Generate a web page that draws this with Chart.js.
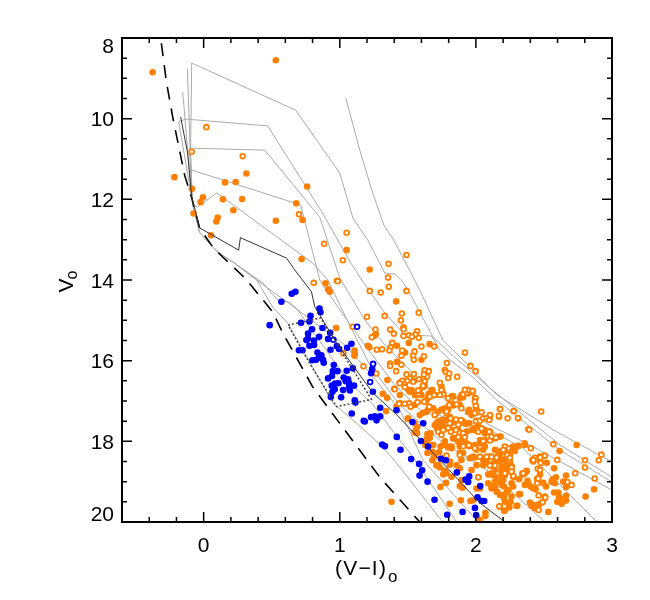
<!DOCTYPE html>
<html>
<head>
<meta charset="utf-8">
<title>CMD</title>
<script src="https://cdn.jsdelivr.net/npm/chart.js@4"></script>
<style>
  body { margin: 0; background: #fff; }
  canvas { display: block; }
</style>
</head>
<body>
<canvas id="cmdChart" width="650" height="600"></canvas>
<script>
// tick positions
const xMajorTicks = [0, 1, 2, 3];
const xMinorTicks = [-0.4, -0.2, 0.2, 0.4, 0.6, 0.8, 1.2, 1.4, 1.6, 1.8, 2.2, 2.4, 2.6, 2.8];
const yMajorTicks = [8, 10, 12, 14, 16, 18, 20];
const yMinorTicks = [8.5, 9, 9.5, 10.5, 11, 11.5, 12.5, 13, 13.5, 14.5, 15, 15.5, 16.5, 17, 17.5, 18.5, 19, 19.5];

// stars, [V-I, V]
const orangeFilled = [
  [0.53,8.55],[-0.375,8.85],[-0.215,11.45],[-0.086,11.74],[0.157,11.58],[0.235,11.57],[0.314,11.36],[0.76,11.68],
  [-0.005,11.95],[-0.022,12.07],[0.142,12.0],[0.282,11.99],[0.68,12.1],[0.218,12.27],[-0.074,12.35],[0.103,12.45],
  [0.093,12.55],[0.53,12.53],[0.726,12.51],[0.054,12.89],[1.05,13.26],[0.72,13.48],[1.22,13.74],[0.98,14.02],
  [0.895,14.08],[0.914,14.23],[0.926,14.29],[0.973,15.19],[1.414,14.53],[1.507,15.56],[1.66,15.59],[1.42,15.63],
  [1.265,15.34],[1.252,15.39],[1.206,15.63],[1.218,15.67],[1.108,15.75],[1.11,15.82],[1.108,15.88],[1.48,15.8],
  [1.6,15.98],[1.421,16.03],[1.35,16.48],[1.44,16.55],[1.316,16.82],[1.348,16.92],[1.503,16.72],[1.527,16.74],
  [1.564,16.86],[1.674,16.73],[1.654,16.82],[1.647,16.92],[1.76,16.82],[1.833,16.89],[1.882,16.93],[1.38,19.5],
  [1.807,19.55],[1.89,19.46],[1.96,19.48],[1.98,19.46],[2.03,19.95],[2.07,19.77],[2.07,19.85],[2.02,19.94],
  [1.74,19.13],[1.78,19.03],[1.76,18.82],[1.77,18.73],[1.735,18.65],[1.71,18.6],[1.68,18.47],[1.73,18.27],
  [1.74,18.13],[1.55,17.78],[1.57,17.64],[1.667,17.8],[1.64,17.93],[1.63,18.1],[1.34,17.25],[1.416,17.14],
  [1.5,17.44],[1.71,17.55],[1.588,17.35],[1.613,17.29],[1.637,17.27],[1.747,17.21],[1.772,17.18],[1.796,17.22],
  [1.821,17.08],[1.882,17.1],[1.943,17.27],[1.968,17.31],[1.951,17.22],[1.907,16.85],[1.828,16.88],[1.809,16.96],
  [1.686,17.18],[1.723,17.51],[1.698,17.6],[1.73,17.6],[1.716,17.68],[1.747,17.47],[1.76,17.6],[1.784,17.68],
  [1.821,17.55],[1.858,17.51],[1.894,17.51],[1.926,17.57],[1.951,17.55],[1.98,17.7],[2.005,17.74],[2.042,17.68],
  [2.066,17.72],[2.14,17.93],[2.176,17.88],[2.09,17.97],[2.054,18.01],[2.03,17.97],[2.066,18.13],[1.993,18.09],
  [1.951,18.09],[1.882,18.13],[1.821,18.13],[1.796,18.15],[1.76,18.09],[1.833,17.93],[1.87,18.01],[1.686,18.09],
  [1.662,18.09],[1.644,17.93],[1.568,17.8],[1.559,17.72],[1.968,18.4],[1.993,18.4],[1.894,18.46],[1.809,18.5],
  [1.76,18.42],[1.698,18.34],[1.681,18.26],[1.784,18.79],[1.821,18.88],[1.882,18.67],[1.858,18.59],[1.968,18.71],
  [1.894,18.96],[1.882,19.11],[1.902,19.15],[2.005,19.17],[2.03,19.17],[2.09,19.04],[2.14,19.12],[2.115,19.17],
  [2.152,19.25],[2.188,19.33],[2.225,19.27],[2.262,19.37],[2.213,19.5],[2.208,19.72],[2.245,19.62],[2.299,19.6],
  [2.318,19.31],[2.274,19.12],[2.262,19.04],[2.238,19.21],[2.176,19.0],[2.152,18.89],[2.14,18.71],[2.115,18.82],
  [2.188,18.71],[2.054,18.59],[2.078,18.5],[2.127,18.59],[2.262,18.63],[2.274,18.88],[2.318,18.94],
  [2.36,18.09],[2.311,18.12],[2.274,18.13],[2.36,19.08],[2.385,19.04],[2.372,18.75],[2.343,18.79],[2.358,18.05],
  [2.181,17.88],[2.615,18.24],[2.74,18.09],[2.574,18.67],[2.471,18.82],[2.373,18.73],[2.36,18.79],[2.287,18.24],
  [2.25,18.17],[2.226,18.17],[2.177,18.34],[2.147,18.22],
  [2.177,18.5],[2.152,18.45],[2.128,18.55],[2.226,18.67],[2.189,18.75],
  [2.128,18.84],[2.25,18.75],[2.213,18.84],[2.279,18.89],[2.201,18.96],[2.189,19.08],
  [2.206,19.12],[2.14,19.0],[2.115,19.12],[2.157,19.25],[2.177,19.33],[2.206,19.39],[2.255,19.5],
  [2.324,19.31],[2.304,19.6],[2.245,19.64],[2.211,19.72],[2.38,18.98],[2.402,19.12],[2.422,19.17],[2.439,19.19],
  [2.495,19.03],[2.515,19.12],[2.564,18.94],[2.556,19.0],[2.588,18.89],[2.581,19.04],[2.642,19.0],[2.662,18.85],
  [2.662,19.14],[2.868,19.19],[2.806,19.37],[2.574,19.27],[2.605,19.27],[2.61,19.37],[2.618,19.41],[2.662,19.35],
  [2.662,19.47],[2.63,19.55],[2.598,19.5],[2.507,19.37],[2.507,19.41],[2.397,19.52],[2.409,19.6],[2.422,19.58],
  [2.434,19.66],[2.451,19.58],[2.471,19.55],[2.532,19.75],[1.527,16.73],[1.551,16.85],[1.637,16.98],[1.681,16.73],
  [1.441,17.05],[1.502,17.43],[1.551,17.55],[1.644,17.82],[1.661,17.92],[1.637,18.05],[1.644,18.29],[1.693,18.38],
  [1.723,18.58],[1.71,17.59],[1.735,17.51],[1.723,17.67],[1.772,17.47],[1.808,17.39],[1.833,17.47],[1.857,17.47],
  [1.882,17.55],[1.906,17.51],[1.931,17.55],[1.821,17.72],[1.87,17.72],[1.894,17.8],[1.931,17.76],[1.968,17.72],
  [1.992,17.67],[2.017,17.63],[1.833,17.92],[1.87,18.0],[1.906,17.96],[1.931,18.05],[1.796,18.13],[1.821,18.17],
  [1.772,18.0],[1.906,18.29],[1.882,18.29],[1.808,18.58],[1.833,17.11],[1.821,16.89],[1.894,16.85],[1.943,16.81],
  [1.906,16.91],[1.747,16.64],[1.6,16.85],[1.625,17.01],[1.649,17.22],[1.723,17.26],[1.514,16.77],[1.478,16.64],
  [1.551,17.1],[1.441,16.85],[1.993,16.92],[1.968,17.35],[2.005,17.51],[1.98,17.72],[2.03,17.72],[2.066,17.8],
  [2.115,17.88],[2.066,17.97],[2.03,18.05],[2.054,18.21],[2.14,18.21],[2.226,18.17],[2.311,18.11],[2.262,18.21],
  [2.189,18.25],[2.164,18.34],[2.25,18.34],[2.201,18.46],[2.14,18.42],[2.103,18.38],[2.054,18.46],[2.25,18.5],
  [2.226,18.59],[2.189,18.63],[2.14,18.54],[2.066,18.54],[2.262,18.61],[2.005,18.59],[1.98,18.38],[1.956,18.42],
  [2.115,18.79],[2.091,18.82],[2.189,18.83],[2.422,18.5],[2.471,18.38],[2.52,18.53],[2.476,18.5],[2.005,17.22]
];
const orangeOpen = [
  [0.02,10.21],[-0.088,10.82],[0.287,10.93],[0.70,12.37],[1.05,12.83],[0.885,13.1],[1.022,13.51],[1.49,13.38],
  [1.358,13.6],[1.355,13.94],[1.36,14.17],[1.22,14.27],[1.30,14.31],[1.49,14.27],[1.456,14.83],[1.58,14.81],
  [1.2,14.91],[1.33,14.89],[1.449,15.0],[1.468,15.17],[1.47,15.22],[1.37,15.23],[1.262,15.23],[1.095,15.16],
  [1.397,15.33],[1.568,15.27],[1.556,15.35],[1.468,15.39],[1.507,15.37],[1.53,15.41],[1.58,15.43],[1.235,15.42],
  [1.385,15.56],[1.693,15.65],[1.373,15.67],[1.365,15.75],[1.458,15.75],[1.272,15.73],[1.311,15.72],[1.60,15.65],
  [1.549,15.77],[1.453,15.88],[1.539,15.88],[1.618,15.89],[1.544,15.98],[1.92,15.8],[1.787,16.06],[1.96,16.13],
  [1.998,16.26],[1.37,16.07],[1.37,16.13],[1.453,16.1],[1.174,16.14],[1.267,16.32],[1.772,16.23],[1.779,16.28],
  [1.804,16.32],[1.623,16.24],[1.654,16.26],[1.414,16.26],[1.49,16.34],[1.544,16.33],[1.642,16.39],[1.796,16.43],
  [1.863,16.4],[1.618,16.34],[1.515,16.44],[1.583,16.46],[1.613,16.46],[1.495,16.5],[1.458,16.5],[1.546,16.5],
  [1.625,16.51],[1.735,16.55],[1.476,16.59],[1.61,16.65],[1.752,16.74],[1.583,16.74],[1.4,16.7],[1.907,16.83],
  [1.939,16.72],[1.934,16.79],[1.978,16.77],[1.998,16.93],[1.69,16.85],[1.667,16.88],[1.58,16.82],[0.809,14.07],
  [0.985,14.03],[1.027,15.82],[1.941,16.73],[1.975,16.75],[2.0,17.14],[2.017,17.28],[2.042,17.28],[2.105,17.36],
  [2.1,17.44],[2.176,17.2],[2.171,17.39],[2.277,17.25],[2.233,17.43],[2.311,17.43],[2.0,17.5],[2.029,17.49],
  [2.385,17.7],[2.09,17.76],[2.017,17.76],[2.09,17.88],[2.103,17.98],[1.436,17.07],[1.478,17.07],[1.51,17.06],
  [1.52,17.14],[1.571,17.03],[1.62,17.02],[1.657,17.14],[1.698,17.35],[1.816,16.96],[1.804,17.1],[1.858,17.08],
  [1.894,17.18],[1.784,17.31],[1.814,17.43],[1.853,17.46],[1.89,17.47],[1.723,17.76],[1.76,17.72],[1.816,17.76],
  [1.853,17.72],[1.882,17.79],[1.907,17.8],[1.87,17.89],[1.919,17.9],[1.907,18.12],[1.951,18.12],[1.882,18.34],
  [2.029,18.38],[2.115,18.38],[2.152,18.4],[2.238,18.17],[2.206,18.26],[2.23,18.34],[2.245,18.46],[2.262,18.73],
  [2.348,18.82],[2.019,18.89],[2.176,19.62],[1.441,16.56],[1.404,16.71],[1.478,16.65],[1.539,16.52],[1.583,16.75],
  [1.625,16.63],[1.662,16.89],[1.698,16.85],[1.747,16.73],[1.76,16.83],[2.179,17.2],[2.279,17.25],[2.169,17.37],
  [2.309,17.42],[2.48,17.26],[2.392,17.71],[2.103,17.35],[2.103,17.76],[2.115,17.88],[2.152,17.9],[2.569,18.07],
  [2.404,18.17],[2.503,18.36],[2.434,18.41],[2.414,18.47],[2.473,18.4],[2.476,18.54],[2.598,18.46],[2.454,18.68],
  [2.801,18.47],[2.902,18.47],[2.922,18.33],[2.801,18.65],[2.73,18.79],[2.873,18.92],[2.341,18.81],[2.449,18.93],
  [2.262,18.65],[2.262,18.75],[2.25,18.41],[2.213,18.13],[2.672,19.01],[2.703,19.08],[2.451,19.04],[2.461,19.34],
  [2.51,19.39],[2.49,19.51],[2.461,19.7],[2.172,19.61],[2.103,18.59],[2.123,18.61],[2.0,17.12],[2.054,17.43],
  [2.079,17.43],[2.098,17.47],[2.098,17.76],[2.042,17.68],[2.147,17.91],[2.054,17.99],[1.993,18.13],[2.005,18.21],
  [2.079,18.38],[2.201,18.21],[2.422,18.46],[2.507,18.36],[2.471,18.71],[2.348,18.79],[2.275,18.86],[2.017,18.89],
  [2.458,18.92],[2.14,18.6],[2.103,18.6],[2.213,18.79],[1.571,17.03],[1.576,16.74],[1.612,16.62],[1.693,16.85],
  [1.735,16.85],[1.796,16.93],[1.919,16.72],[1.992,17.01],[1.992,17.3],[1.698,17.34],[1.784,17.26],[1.808,17.55],
  [1.796,17.67],[1.87,17.59],[1.747,17.84],[1.948,18.1],[1.992,18.17],[1.784,18.35]
];
const blueFilled = [
  [0.674,14.29],[0.647,14.34],[0.571,14.54],[0.485,15.12],[0.785,14.89],[0.851,14.71],[0.858,14.8],[0.715,15.06],
  [0.777,15.03],[0.873,15.19],[0.796,15.22],[0.929,15.31],[0.767,15.33],[0.848,15.41],[0.767,15.45],[0.755,15.49],
  [0.811,15.5],[0.914,15.46],[1.086,15.58],[1.054,15.68],[0.777,15.63],[0.811,15.61],[0.978,15.64],[0.995,15.71],
  [0.932,15.73],[0.7,15.74],[0.726,15.74],[0.836,15.8],[0.865,15.87],[0.848,15.92],[0.826,15.98],[0.799,15.99],
  [0.877,15.98],[0.882,16.05],[0.956,16.11],[1.096,16.19],[0.949,16.26],[0.983,16.26],[1.051,16.25],[1.238,16.21],
  [1.23,16.31],[0.943,16.38],[0.914,16.44],[1.029,16.42],[1.061,16.46],[1.044,16.51],[1.068,16.56],[0.99,16.56],
  [0.965,16.57],[0.941,16.62],[1.105,16.62],[1.068,16.66],[1.024,16.73],[0.963,16.71],[0.946,16.77],[1.074,16.74],
  [1.01,16.91],[0.934,16.9],[1.243,16.77],[1.11,16.98],[1.115,17.04],[1.297,17.17],[1.088,17.31],[1.417,17.23],
  [1.297,17.38],[1.257,17.38],[1.23,17.4],[1.27,17.48],[1.176,17.49],[1.184,17.51],[1.534,17.52],[1.613,17.55],
  [1.419,17.89],[1.596,17.99],[1.649,18.13],[1.311,18.08],[1.331,18.12],[1.446,18.21],[1.524,18.44],[1.583,18.56],
  [1.743,18.43],[1.779,18.47],[1.605,18.72],[1.586,18.85],[1.86,18.77],[1.951,18.87],[1.924,18.95],[1.943,19.01],
  [1.645,19.0],[2.032,19.11],[1.696,19.45],[2.012,19.39],[2.042,19.48],[2.061,19.48],[1.993,19.65],[1.902,19.75],
  [1.789,19.82],[2.002,19.83]
];
const blueOpen = [[0.953,15.48],[1.127,15.16],[1.245,16.08],[1.223,16.53]];

// model tracks
const grayTracks = [
  [[1.044,9.49],[1.147,10.78],[1.235,11.77],[1.324,12.64],[1.397,13.01],[1.588,14.25],[1.757,15.49],[1.904,15.98],[2.154,16.85],[2.596,17.77],[3.0,18.51]],
  [[-0.085,12.02],[-0.096,10.78],[-0.088,8.62],[0.676,9.79],[1.0,11.35],[1.096,12.46],[1.206,13.01],[1.331,13.83],[1.404,13.85],[1.463,14.05],[1.529,14.42],[1.61,14.94],[1.684,15.41],[1.809,15.81],[1.978,16.31],[2.103,16.68],[2.618,18.09],[3.0,18.89]],
  [[-0.088,11.94],[-0.184,10.08],[-0.132,10.01],[0.471,10.18],[0.868,12.31],[1.081,13.58],[1.162,14.0],[1.331,14.82],[1.478,15.36],[1.676,15.39],[1.735,15.74],[1.809,15.98],[1.978,16.41],[2.154,16.98],[2.618,18.22],[3.0,19.01]],
  [[-0.088,11.94],[-0.103,10.73],[0.449,10.78],[0.853,12.44],[1.0,13.95],[1.184,14.99],[1.331,15.61],[1.478,16.11],[1.662,16.73],[2.103,17.6],[2.397,18.09],[3.0,19.21]],
  [[-0.088,11.94],[-0.09,11.27],[0.713,12.14],[0.853,14.0],[1.0,14.74],[1.184,15.61],[1.404,16.6],[1.588,17.22],[2.103,17.72],[2.346,18.17],[2.89,20.0]],
  [[-0.081,12.14],[-0.044,12.19],[0.096,11.84],[0.801,13.58],[0.912,14.0],[1.037,14.87],[1.221,16.11],[1.441,17.1],[1.735,17.97],[2.103,18.76],[2.507,20.0]],
  [[-0.081,12.14],[-0.098,10.85],[-0.12,8.75]],
  [[-0.088,11.94],[-0.154,9.34]],
  [[-0.081,12.14],[-0.029,12.83],[0.103,13.31],[0.213,13.55],[0.39,14.0],[0.507,14.67],[0.618,15.07],[0.949,17.05],[1.096,17.47],[1.316,18.14],[1.441,18.64],[1.757,20.0]],
  [[-0.081,12.14],[-0.029,12.83],[0.103,13.31],[0.213,13.55],[0.434,14.07],[0.544,14.5],[0.632,14.55],[0.691,14.74],[0.779,15.17],[1.074,16.55],[1.235,17.05],[1.368,17.65],[1.537,18.39],[1.86,20.0]],
  [[0.213,13.55],[0.39,14.0],[0.691,14.74],[1.037,15.61],[1.235,16.36],[1.441,17.22],[1.61,18.46],[2.015,20.0]]
];
const darkTrack = [[-0.169,9.96],[-0.118,10.85],[-0.088,11.94],[-0.029,12.71],[0.257,13.26],[0.27,12.95],[0.61,13.46],[0.669,13.75],[0.792,14.29],[0.816,14.66],[0.976,15.56],[1.243,16.8],[1.412,17.32],[1.757,18.54],[2.029,19.53],[2.206,19.98]];
const dashedTrack = [[-0.311,8.13],[-0.274,9.08],[-0.228,9.95],[-0.14,11.4],[-0.09,11.94],[-0.03,12.71],[0.066,13.18],[0.14,13.43],[0.272,13.85],[0.316,14.0],[0.507,14.79],[0.581,15.31],[0.801,16.65],[0.926,17.22],[1.147,18.22],[1.294,18.89],[1.588,20.0]];
const dottedBox = [[0.62,15.12],[0.86,14.94],[1.233,16.96],[0.976,17.14],[0.779,16.07],[0.62,15.12]];

const toPoints = list => list.map(p => ({ x: p[0], y: p[1] }));

function lineSet(list, color, width, dash, order) {
    return {
        data: toPoints(list),
        showLine: true,
        borderColor: color,
        borderWidth: width,
        borderDash: dash,
        pointRadius: 0,
        tension: 0,
        order: order
    };
}

function pointSet(list, fill, stroke, radius, strokeWidth, order) {
    return {
        data: toPoints(list),
        showLine: false,
        backgroundColor: fill,
        borderColor: stroke,
        borderWidth: strokeWidth,
        pointRadius: radius,
        clip: false,
        order: order
    };
}

const orange = '#ff8000';
const blue = '#0000ff';

const datasets = [
    ...grayTracks.map(t => lineSet(t, '#aaaaaa', 1, [], 10)),
    lineSet(darkTrack, '#333333', 1, [], 2),
    lineSet(dashedTrack, '#000000', 1.6, [13, 9], 8),
    pointSet(orangeFilled, orange, orange, 3.3, 0, 6),
    pointSet(orangeOpen, '#ffffff', orange, 2.4, 1.8, 5),
    pointSet(blueFilled, blue, blue, 3.3, 0, 4),
    pointSet(blueOpen, '#ffffff', blue, 2.4, 1.8, 3),
    lineSet(dottedBox, '#444444', 1.5, [2, 2], 1)
];

// inward ticks on all four sides, the frame, y labels and the axis titles
const framePlugin = {
    id: 'frame',
    afterDraw(chart) {
        const ctx = chart.ctx;
        const a = chart.chartArea;
        const xs = chart.scales.x;
        const ys = chart.scales.y;
        ctx.save();
        ctx.strokeStyle = '#000';
        ctx.lineWidth = 1.5;
        const xTick = (v, len) => {
            const px = xs.getPixelForValue(v);
            ctx.beginPath();
            ctx.moveTo(px, a.bottom); ctx.lineTo(px, a.bottom - len);
            ctx.moveTo(px, a.top); ctx.lineTo(px, a.top + len);
            ctx.stroke();
        };
        const yTick = (v, len) => {
            const py = ys.getPixelForValue(v);
            ctx.beginPath();
            ctx.moveTo(a.left, py); ctx.lineTo(a.left + len, py);
            ctx.moveTo(a.right, py); ctx.lineTo(a.right - len, py);
            ctx.stroke();
        };
        xMajorTicks.forEach(v => xTick(v, 10));
        xMinorTicks.forEach(v => xTick(v, 5));
        yMajorTicks.forEach(v => yTick(v, 10));
        yMinorTicks.forEach(v => yTick(v, 5));
        ctx.lineWidth = 2;
        ctx.strokeRect(a.left, a.top, a.right - a.left, a.bottom - a.top);

        ctx.fillStyle = '#000';
        // y labels stay inside the frame height, as in the source figure
        ctx.font = '21px "Liberation Sans"';
        ctx.textAlign = 'right';
        ctx.textBaseline = 'middle';
        yMajorTicks.forEach(v => {
            const py = Math.min(a.bottom - 7, Math.max(a.top + 9, ys.getPixelForValue(v) + 2));
            ctx.fillText(String(v), 114, py);
        });

        ctx.textBaseline = 'alphabetic';
        ctx.textAlign = 'left';
        ctx.font = '21px "Liberation Sans"';
        ctx.letterSpacing = '1.2px';
        ctx.fillText('(V\u2212I)', 335, 575);
        ctx.letterSpacing = '0px';
        ctx.font = '17px "Liberation Sans"';
        ctx.fillText('o', 388, 582);

        ctx.translate(73, 292.5);
        ctx.rotate(-Math.PI / 2);
        ctx.font = '21px "Liberation Sans"';
        ctx.fillText('V', 0, 0);
        ctx.font = '16px "Liberation Sans"';
        ctx.fillText('o', 13, 4);
        ctx.restore();
    }
};

new Chart(document.getElementById('cmdChart'), {
    type: 'scatter',
    data: { datasets: datasets },
    plugins: [framePlugin],
    options: {
        responsive: false,
        animation: false,
        layout: { padding: { top: 38, right: 38 } },
        plugins: {
            legend: { display: false },
            tooltip: { enabled: false }
        },
        scales: {
            x: {
                type: 'linear',
                min: -0.6,
                max: 3,
                grid: { display: false },
                border: { display: false },
                afterBuildTicks: s => { s.ticks = xMajorTicks.map(v => ({ value: v })); },
                afterFit: s => { s.height = 78; },
                ticks: {
                    color: '#000',
                    padding: 4,
                    maxRotation: 0,
                    autoSkip: false,
                    font: { family: 'Liberation Sans', size: 21 }
                }
            },
            y: {
                type: 'linear',
                min: 8,
                max: 20,
                reverse: true,
                grid: { display: false },
                border: { display: false },
                afterBuildTicks: s => { s.ticks = yMajorTicks.map(v => ({ value: v })); },
                afterFit: s => { s.width = 122; },
                ticks: { display: false }
            }
        }
    }
});
</script>
</body>
</html>
